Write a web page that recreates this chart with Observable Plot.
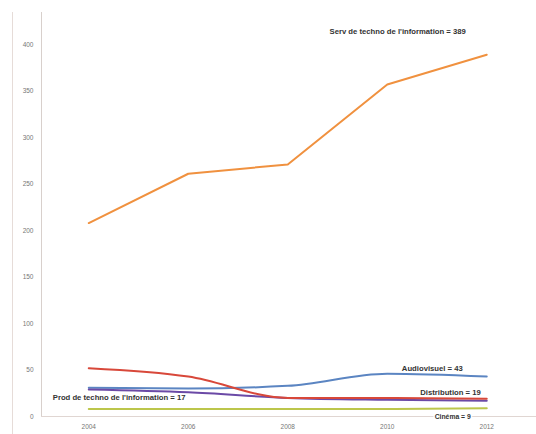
<!DOCTYPE html>
<html>
<head>
<meta charset="utf-8">
<script src="https://cdn.jsdelivr.net/npm/d3@7"></script>
<script src="https://cdn.jsdelivr.net/npm/@observablehq/plot@0.6"></script>
<style>
  html, body { margin: 0; padding: 0; background: #fff; }
  #wrap { position: relative; width: 536px; height: 434px; }
  #wrap .frame { position: absolute; left: 12px; top: 12px; width: 0; height: 422px; border-left: 1px solid #e6dcd8; }
  #wrap svg { position: absolute; left: 0; top: 0; }
</style>
</head>
<body>
<div id="wrap"><div class="frame"></div></div>
<script>
const years = [2004, 2006, 2008, 2010, 2012];
const servTechno = [208, 261, 271, 357, 389];
const audiovisuel = [31, 30, 33, 46, 43];
const distribution = [52, 43, 20, 20, 19];
const prodTechno = [29, 26, 20, 18, 17];
const cinema = [8, 8, 8, 8, 9];
const yTicks = [0, 50, 100, 150, 200, 250, 300, 350, 400];

const seriesNames = ["Serv de techno de l'information", "Audiovisuel", "Distribution", "Prod de techno de l'information", "Cinéma"];
const seriesValues = [servTechno, audiovisuel, distribution, prodTechno, cinema];
const colors = ["#F0913F", "#5B85C2", "#D8483A", "#6B4AA6", "#BCC64B"];

const rows = [];
seriesNames.forEach((name, i) => years.forEach((yr, j) => rows.push({series: name, year: yr, value: seriesValues[i][j]})));
const last = name => rows.filter(r => r.series === name && r.year === years[years.length - 1]);
const first = name => rows.filter(r => r.series === name && r.year === years[0]);
const lab = r => `${r.series} = ${r.value}`;

const font = "'Liberation Sans', Arial, sans-serif";
const textStyle = {text: lab, fontSize: 7.7, fontWeight: "bold", fill: "#333", x: "year", y: "value"};

const chart = Plot.plot({
  width: 536,
  height: 434,
  marginLeft: 41,
  marginRight: 0,
  marginTop: 12,
  marginBottom: 18,
  style: {fontFamily: font, background: "transparent"},
  x: {type: "linear", domain: [2003.05, 2013], ticks: years, tickFormat: d => String(d), label: null},
  y: {domain: [0, 434.4], ticks: yTicks, label: null},
  color: {domain: seriesNames, range: colors},
  marks: [
    Plot.axisY({ticks: yTicks, tickSize: 0, tickPadding: 8, fontSize: 6.5, fill: "#777", tickFormat: d => String(d), label: null}),
    Plot.axisX({ticks: years, tickSize: 0, tickPadding: 8, fontSize: 6.5, fill: "#777", tickFormat: d => String(d), label: null}),
    Plot.ruleX([2003.05], {stroke: "#d8d0cc", strokeWidth: 1}),
    Plot.ruleY([0], {stroke: "#e0d6d2", strokeWidth: 1}),
    Plot.line(rows.filter(r => r.series === seriesNames[4]), {x: "year", y: "value", stroke: "series", strokeWidth: 2, curve: "monotone-x"}),
    Plot.line(rows.filter(r => r.series === seriesNames[1]), {x: "year", y: "value", stroke: "series", strokeWidth: 2, curve: "monotone-x"}),
    Plot.line(rows.filter(r => r.series === seriesNames[3]), {x: "year", y: "value", stroke: "series", strokeWidth: 2, curve: "monotone-x"}),
    Plot.line(rows.filter(r => r.series === seriesNames[2]), {x: "year", y: "value", stroke: "series", strokeWidth: 2, curve: "monotone-x"}),
    Plot.line(rows.filter(r => r.series === seriesNames[0]), {x: "year", y: "value", stroke: "series", strokeWidth: 2}),
    Plot.text(last(seriesNames[0]), {...textStyle, textAnchor: "end", dx: -21, dy: -23}),
    Plot.text(last(seriesNames[1]), {...textStyle, textAnchor: "end", dx: -24, dy: -8}),
    Plot.text(last(seriesNames[2]), {...textStyle, textAnchor: "end", dx: -6, dy: -6}),
    Plot.text(last(seriesNames[4]), {...textStyle, fontSize: 6.8, textAnchor: "end", dx: -16, dy: 8.5, stroke: "white", strokeWidth: 3}),
    Plot.text(first(seriesNames[3]), {...textStyle, textAnchor: "start", dx: -36, dy: 8, text: r => `Prod de techno de l'information = ${prodTechno[prodTechno.length - 1]}`})
  ]
});
document.getElementById("wrap").appendChild(chart);
</script>
</body>
</html>
